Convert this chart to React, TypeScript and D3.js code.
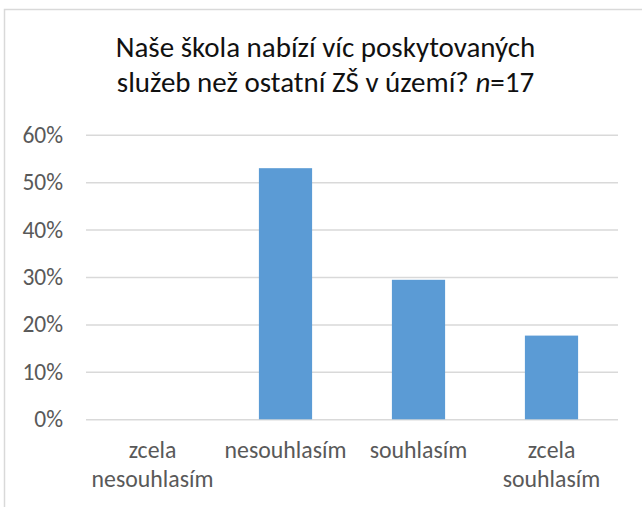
import React, { useEffect, useRef } from "react";
import * as d3 from "d3";

// answers (share of respondents, n = 17)
const categories = ["zcela nesouhlasím", "nesouhlasím", "souhlasím", "zcela souhlasím"];
const shares = [0, 9 / 17, 5 / 17, 3 / 17];
const yTicks = [0, 0.1, 0.2, 0.3, 0.4, 0.5, 0.6];
const titleLine1 = "Naše škola nabízí víc poskytovaných";
const titleLine2 = "služeb než ostatní ZŠ v území? ";
const sampleSize = 17;

const W = 642;
const H = 507;
const FONT = "Carlito, Calibri, 'Open Sans', sans-serif";

export default function App() {
  const ref = useRef<SVGSVGElement>(null);

  useEffect(() => {
    const svg = d3.select(ref.current);
    svg.selectAll("*").remove();

    const plot = { left: 86, right: 618, top: 134.7, bottom: 419.3 };

    // chart frame (the picture is cropped, only left/top edges visible)
    svg.append("rect")
      .attr("x", 4.5).attr("y", 9.5)
      .attr("width", W + 20).attr("height", H + 20)
      .attr("fill", "white")
      .attr("stroke", "#d9d9d9")
      .attr("stroke-width", 1.5);

    // title
    const title = svg.append("text")
      .attr("text-anchor", "middle")
      .attr("font-family", FONT)
      .attr("font-size", 29)
      .attr("fill", "#111");
    title.append("tspan").attr("x", 325.5).attr("y", 57.3).text(titleLine1);
    const l2 = title.append("tspan").attr("x", 325.5).attr("y", 91.7);
    l2.append("tspan").text(titleLine2);
    l2.append("tspan").attr("font-style", "italic").text("n");
    l2.append("tspan").text("=" + sampleSize);

    const x = d3.scaleBand()
      .domain(categories)
      .range([plot.left, plot.right])
      .paddingInner(0.6)
      .paddingOuter(0.3);

    const y = d3.scaleLinear()
      .domain([0, 0.6])
      .range([plot.bottom, plot.top]);

    // y axis + gridlines
    const yAxis = svg.append("g")
      .attr("transform", `translate(${plot.left},0)`)
      .call(d3.axisLeft(y)
        .tickValues(yTicks)
        .tickFormat(d3.format(".0%"))
        .tickSize(-(plot.right - plot.left))
        .tickPadding(23));
    yAxis.select(".domain").remove();
    yAxis.selectAll(".tick line").attr("stroke", "#d9d9d9").attr("stroke-width", 1.5);
    yAxis.selectAll(".tick text")
      .attr("font-family", FONT)
      .attr("font-size", 23.5)
      .attr("fill", "#595959");

    // bars
    svg.append("g")
      .selectAll("rect")
      .data(shares)
      .enter()
      .append("rect")
      .attr("x", (d, i) => x(categories[i])!)
      .attr("y", (d) => y(d))
      .attr("width", x.bandwidth())
      .attr("height", (d) => plot.bottom - y(d))
      .attr("fill", "#5b9bd5");

    // x axis labels, wrapped like Excel does
    const xAxis = svg.append("g")
      .attr("transform", `translate(0,${plot.bottom})`)
      .call(d3.axisBottom(x).tickSize(0).tickPadding(22));
    xAxis.select(".domain").remove();
    xAxis.selectAll<SVGTextElement, string>(".tick text")
      .attr("font-family", FONT)
      .attr("font-size", 23.8)
      .attr("fill", "#595959")
      .each(function (d) {
        const t = d3.select(this);
        const full = (this as SVGTextElement).getComputedTextLength();
        const lines = full > x.step() * 0.95 ? d.split(" ") : [d];
        t.text(null);
        lines.forEach((w, i) => {
          const ts = t.append("tspan").attr("x", 0).text(w);
          if (i > 0) ts.attr("dy", 29);
        });
      });
  }, []);

  return (
    <svg
      ref={ref}
      width={W}
      height={H}
      style={{ position: "absolute", left: 0, top: 0, background: "white" }}
    />
  );
}
